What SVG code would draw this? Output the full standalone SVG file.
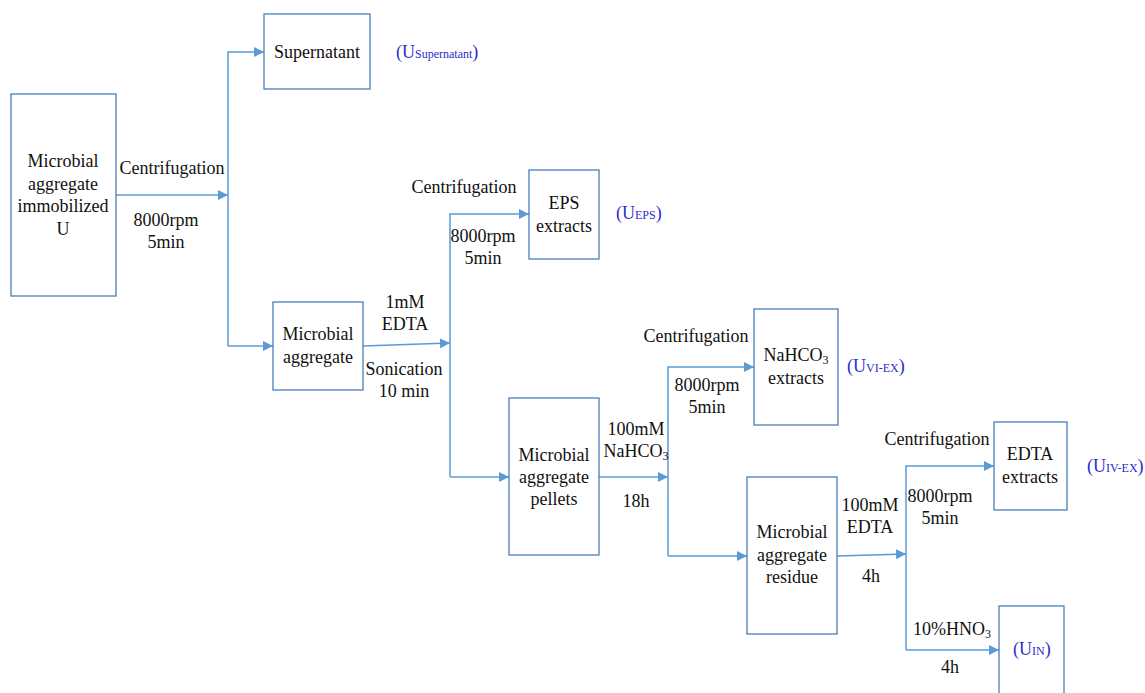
<svg xmlns="http://www.w3.org/2000/svg" width="1145" height="693" viewBox="0 0 1145 693">
<style>
.box{fill:#fff;stroke:#4a7ebb;stroke-width:1.3}
.c{fill:none;stroke:#5b9bd5;stroke-width:1.5}
text{font-family:"Liberation Serif","Times New Roman",serif;font-size:18px;fill:#111}
.m{text-anchor:middle}
.u{fill:#2b2bd0}
.s{font-size:12px}
</style>
<defs>
<marker id="a" viewBox="0 0 10 10" refX="10" refY="5" markerWidth="10" markerHeight="10" markerUnits="userSpaceOnUse" orient="auto">
<path d="M0,0 L10,5 L0,10 Z" fill="#5b9bd5"/>
</marker>
</defs>
<rect width="1145" height="693" fill="#fff"/>
<g id="connectors">
<path class="c" d="M116,195 L228,195" marker-end="url(#a)"/>
<path class="c" d="M228,346 L228,52 L264,52" marker-end="url(#a)"/>
<path class="c" d="M228,346 L273,346" marker-end="url(#a)"/>
<path class="c" d="M363,346 L450,343" marker-end="url(#a)"/>
<path class="c" d="M450,477 L450,214 L529,214" marker-end="url(#a)"/>
<path class="c" d="M450,477 L509,477" marker-end="url(#a)"/>
<path class="c" d="M599,477 L668,477" marker-end="url(#a)"/>
<path class="c" d="M668,556 L668,367 L754,367" marker-end="url(#a)"/>
<path class="c" d="M668,556 L747,556" marker-end="url(#a)"/>
<path class="c" d="M837,556 L906,554" marker-end="url(#a)"/>
<path class="c" d="M906,650 L906,466 L994,466" marker-end="url(#a)"/>
<path class="c" d="M906,650 L999,650" marker-end="url(#a)"/>
</g>
<g id="labels">
<text class="m" x="172" y="174">Centrifugation</text>
<text class="m" x="166" y="226">8000rpm</text>
<text class="m" x="166" y="248">5min</text>
<text class="m" x="464" y="193">Centrifugation</text>
<text class="m" x="483" y="242">8000rpm</text>
<text class="m" x="483" y="264">5min</text>
<text class="m" x="405" y="308">1mM</text>
<text class="m" x="405" y="330">EDTA</text>
<text class="m" x="404" y="375">Sonication</text>
<text class="m" x="404" y="397">10 min</text>
<text class="m" x="696" y="342">Centrifugation</text>
<text class="m" x="707" y="391">8000rpm</text>
<text class="m" x="707" y="413">5min</text>
<text class="m" x="636" y="435">100mM</text>
<text class="m" x="636" y="457">NaHCO<tspan class="s" dy="3">3</tspan></text>
<text class="m" x="636" y="507">18h</text>
<text class="m" x="937" y="445">Centrifugation</text>
<text class="m" x="940" y="502">8000rpm</text>
<text class="m" x="940" y="524">5min</text>
<text class="m" x="870" y="511">100mM</text>
<text class="m" x="870" y="533">EDTA</text>
<text class="m" x="871" y="582">4h</text>
<text class="m" x="952" y="635">10%HNO<tspan class="s" dy="3">3</tspan></text>
<text class="m" x="950" y="673">4h</text>
</g>
<g id="n1">
<rect class="box" x="11" y="94" width="105" height="202"/>
<text class="m" x="63" y="167">Microbial</text>
<text class="m" x="63" y="190">aggregate</text>
<text class="m" x="63" y="212">immobilized</text>
<text class="m" x="63" y="235">U</text>
</g>
<g id="n2">
<rect class="box" x="264" y="14" width="106" height="75"/>
<text class="m" x="317" y="58">Supernatant</text>
<text class="u" x="396" y="58">(U<tspan class="s">Supernatant</tspan>)</text>
</g>
<g id="n3">
<rect class="box" x="273" y="302" width="90" height="88"/>
<text class="m" x="318" y="340">Microbial</text>
<text class="m" x="318" y="363">aggregate</text>
</g>
<g id="n4">
<rect class="box" x="529" y="170" width="70" height="89"/>
<text class="m" x="564" y="209">EPS</text>
<text class="m" x="564" y="232">extracts</text>
<text class="u" x="616" y="219">(U<tspan class="s">EPS</tspan>)</text>
</g>
<g id="n5">
<rect class="box" x="509" y="398" width="90" height="157"/>
<text class="m" x="554" y="461">Microbial</text>
<text class="m" x="554" y="483">aggregate</text>
<text class="m" x="554" y="505">pellets</text>
</g>
<g id="n6">
<rect class="box" x="754" y="309" width="84" height="116"/>
<text class="m" x="796" y="361">NaHCO<tspan class="s" dy="3">3</tspan></text>
<text class="m" x="796" y="384">extracts</text>
<text class="u" x="847" y="372">(U<tspan class="s">VI-EX</tspan>)</text>
</g>
<g id="n7">
<rect class="box" x="747" y="477" width="90" height="157"/>
<text class="m" x="792" y="538">Microbial</text>
<text class="m" x="792" y="561">aggregate</text>
<text class="m" x="792" y="583">residue</text>
</g>
<g id="n8">
<rect class="box" x="994" y="422" width="73" height="88"/>
<text class="m" x="1030" y="460">EDTA</text>
<text class="m" x="1030" y="483">extracts</text>
<text class="u" x="1087" y="472">(U<tspan class="s">IV-EX</tspan>)</text>
</g>
<g id="n9">
<rect class="box" x="999" y="606" width="65" height="100"/>
<text class="u" x="1013" y="655">(U<tspan class="s">IN</tspan>)</text>
</g>
</svg>
